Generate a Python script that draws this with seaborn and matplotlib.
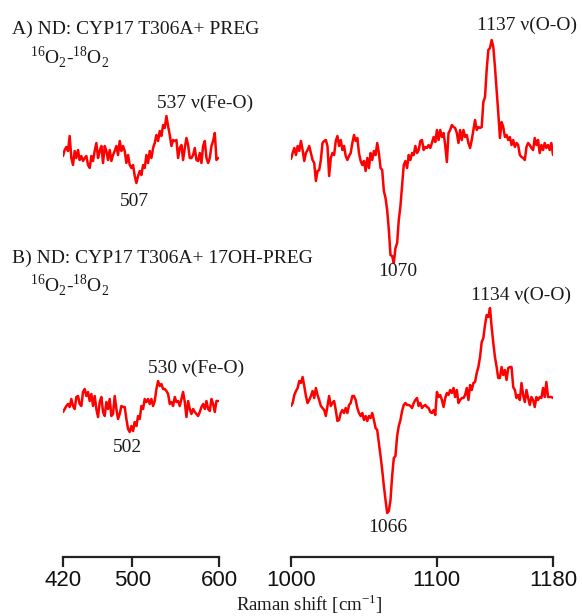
import numpy as np
import pandas as pd
import matplotlib
matplotlib.use("Agg")
import matplotlib.pyplot as plt
import seaborn as sns

# difference spectra (16O2 - 18O2), intensities in arbitrary units
a_low = [2, 8, 11, 7, 22, 0, -7, 7, 0, 8, -2, 2, -3, 0, 2, -7, -10, 2, -3, 7,
         15, 0, 7, 12, -5, 12, 7, -2, 8, -3, 3, 7, 12, 3, 17, 7, 12, 7, -5, 3,
         -7, -10, -7, -18, -25, -18, -13, -17, -7, -10, 3, -5, 7, 0, 10, 15, 23, 17, 27, 22,
         33, 30, 42, 32, 23, 12, 18, 17, 18, 0, 10, 13, -2, 10, 20, 13, 0, 0, 3, 10,
         -2, -3, 5, -5, 12, 17, 0, -5, 0, 12, 17, 25, -2, 0]
b_low = [-3, 0, 3, 5, 2, 10, 3, 0, 12, 13, 5, 3, 17, 20, 13, 17, 8, 15, 3, 13,
         0, -8, 7, 12, -3, -7, 7, 0, 10, -7, -5, 13, 0, -10, -5, 3, 2, 2, -10, -20,
         -23, -17, -22, -13, -17, -7, -10, 3, 0, 10, 7, 10, 5, 10, 3, 8, 20, 28, 23, 25,
         20, 20, 18, 15, 5, 7, 3, 12, 7, 8, 3, 10, 17, 7, -8, 8, 0, -5, 0, -3,
         -5, -7, -3, 2, 5, 0, 8, 0, -2, 10, 5, -3, 8, 8]
a_high = [-6, 0, 5, -2, 7, 2, 12, 3, -8, 0, 3, 7, 0, -7, -10, -28, -18, -17, -7, 10,
          12, 13, 7, -23, -5, 0, -2, 12, 17, 7, 13, 3, 7, -3, -7, -3, 0, 10, 18, 12,
          15, 0, -8, -12, -8, -18, -5, -15, 0, -7, 2, -2, 10, 0, -15, -17, -38, -45, -57, -77,
          -102, -103, -110, -95, -90, -67, -53, -33, -12, -8, -15, -2, -7, 0, -2, 7, 0, 3, 12, 13,
          3,
          6, 5, 8, 5, 10, 16, 11, 23, 13, 23, 16, 20, 8, -9, 20, 23, 28, 26, 25, 20,
          10, 23, 13, 23, 16, 18, 10, 5, 13, 23, 33, 23, 26, 25, 26, 51, 56, 83, 103, 105,
          113, 106, 86, 63, 40, 15, 31, 26, 16, 18, 13, 16, 8, 13, 6, 10, 8, -2, -4, -5,
          -7, 6, 10, 8, 5, 3, 15, 8, 13, 0, 8, 3, 10, 5, 8, 3, 10, -2]
b_high = [-3, 0, 8, 12, 15, 22, 20, 26, 17, 7, 0, 3, 7, 12, 5, 15, 8, 3, -3, -5,
          -7, -13, -3, 7, -3, 0, 2, -7, -18, -17, -10, -7, -10, -5, -10, -2, 0, 7, 7, 3,
          -5, -10, -13, -10, -17, -13, -18, -13, -15, -10, -17, -25, -27, -40, -53, -67, -83, -97, -110, -108,
          -97, -73, -55, -53, -33, -23, -17, -8, -2, 0, -2, -2, -3, -5, 0, 3, 5, -3, 0, -5,
          -3,
          -2, -4, -5, -9, -10, -7, -12, 11, 6, 8, 3, -4, 5, 10, 8, 13, 10, 15, 6, 13,
          0, 3, 5, 5, 8, 15, 3, 18, 13, 20, 21, 30, 36, 46, 61, 65, 78, 88, 86, 95,
          76, 60, 46, 36, 25, 25, 36, 28, 33, 23, 35, 36, 36, 16, 13, 5, 8, 3, 20, 8,
          1, 13, 5, -2, 6, 3, -4, 6, 3, 6, 5, 15, 6, 21, 6, 6, 6, 5]

low_range = (420, 599)
high_range = (1000, 1180)
low_ticks = [420, 500, 600]
high_ticks = [1000, 1100, 1180]

sns.set_style("white")
plt.rcParams["font.family"] = ["Liberation Serif", "DejaVu Serif"]
plt.rcParams["mathtext.fontset"] = "custom"
plt.rcParams["mathtext.rm"] = "Liberation Serif"

W, H = 582, 616
fig = plt.figure(figsize=(W / 100, H / 100), dpi=100)
ax_lo = fig.add_axes([63 / W, 59 / H, 156 / W, 557 / H])
ax_hi = fig.add_axes([291 / W, 59 / H, 262 / W, 557 / H])

# vertical offsets of the stacked traces
offset_a = {"lo": 399, "hi": 404}
offset_b = {"lo": 148, "hi": 154}


def make_df(vals_a, vals_b, rng, key):
    xa = np.linspace(rng[0], rng[1], len(vals_a))
    xb = np.linspace(rng[0], rng[1], len(vals_b))
    da = pd.DataFrame({"shift": xa, "y": np.array(vals_a) + offset_a[key], "trace": "A"})
    db = pd.DataFrame({"shift": xb, "y": np.array(vals_b) + offset_b[key], "trace": "B"})
    return pd.concat([da, db])


for ax, df, lims, ticks in [
    (ax_lo, make_df(a_low, b_low, low_range, "lo"), (420, 600), low_ticks),
    (ax_hi, make_df(a_high, b_high, high_range, "hi"), (1000, 1180), high_ticks),
]:
    sns.lineplot(data=df, x="shift", y="y", units="trace", estimator=None,
                 color="red", lw=1.8, ax=ax, legend=False)
    ax.set_xlim(*lims)
    ax.set_ylim(0, 557)
    ax.set_xticks(ticks)
    ax.set_xticklabels([str(t) for t in ticks], family="Liberation Sans", fontsize=16)
    ax.set_yticks([])
    ax.set_xlabel("")
    ax.set_ylabel("")
    ax.patch.set_visible(False)
    for s in ["top", "right", "left"]:
        ax.spines[s].set_visible(False)
    ax.spines["bottom"].set_linewidth(1.6)
    ax.spines["bottom"].set_color("#222222")
    ax.tick_params(axis="x", direction="out", length=7, width=1.6, color="#222222",
                   pad=2, bottom=True, labelcolor="#111111")

fs = 14
tc = "#1a1a1a"
# peak labels
ax_lo.text(528, 454, "537 ν(Fe-O)", fontsize=fs, color=tc, ha="left", va="center", clip_on=False)
ax_lo.text(503, 355, "507", fontsize=fs, color=tc, ha="center", va="center")
ax_lo.text(518, 189, "530 ν(Fe-O)", fontsize=fs, color=tc, ha="left", va="center", clip_on=False)
ax_lo.text(495, 109, "502", fontsize=fs, color=tc, ha="center", va="center")
ax_hi.text(1127.5, 532, "1137 ν(O-O)", fontsize=fs, color=tc, ha="left", va="center", clip_on=False)
ax_hi.text(1073.5, 285, "1070", fontsize=fs, color=tc, ha="center", va="center")
ax_hi.text(1124, 262, "1134 ν(O-O)", fontsize=fs, color=tc, ha="left", va="center", clip_on=False)
ax_hi.text(1066.5, 29, "1066", fontsize=fs, color=tc, ha="center", va="center")

# panel headers
iso = r"$^{\mathrm{16}}$O$_{\mathrm{2}}$-$^{\mathrm{18}}$O$_{\mathrm{2}}$"
fig.text(12 / W, 1 - 29 / H, "A) ND: CYP17 T306A+ PREG", fontsize=fs, color=tc, va="center")
fig.text(30 / W, 1 - 57 / H, iso, fontsize=fs, color=tc, va="center")
fig.text(12 / W, 1 - 258 / H, "B) ND: CYP17 T306A+ 17OH-PREG", fontsize=fs, color=tc, va="center")
fig.text(30 / W, 1 - 285 / H, iso, fontsize=fs, color=tc, va="center")
fig.text(309 / W, 1 - 604 / H, r"Raman shift [cm$^{\mathrm{-1}}$]", fontsize=13.5,
         color=tc, ha="center", va="center")

fig.savefig("out.png", dpi=100)
